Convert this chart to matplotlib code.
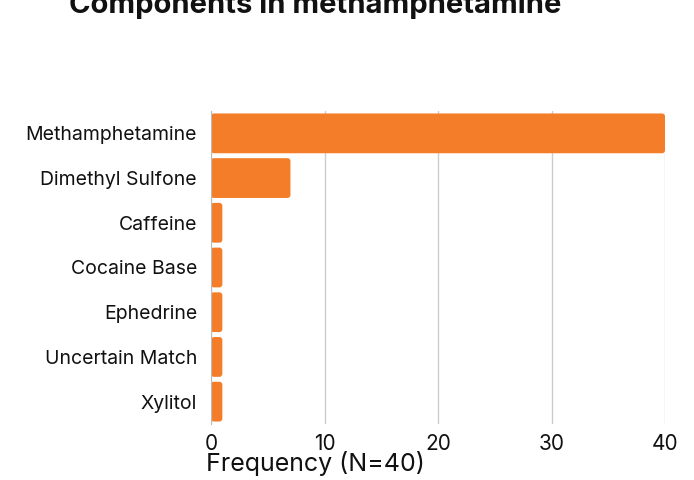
import matplotlib.pyplot as plt
from matplotlib.patches import FancyBboxPatch

# ---- data ----
components = ['Methamphetamine', 'Dimethyl Sulfone', 'Caffeine',
              'Cocaine Base', 'Ephedrine', 'Uncertain Match', 'Xylitol']
frequency = [40, 7, 1, 1, 1, 1, 1]
xticks = [0, 10, 20, 30, 40]

BAR_COLOR = '#F47D2A'
GRID_COLOR = '#CCCCCC'

plt.rcParams['font.family'] = ['Inter', 'DejaVu Sans']

fig = plt.figure(figsize=(6.94, 4.80), dpi=100)
ax_top, ax_bot = 111, 424
ax = fig.add_axes([211 / 694, 1 - ax_bot / 480, 454 / 694, (ax_bot - ax_top) / 480])

ypos = list(range(len(components)))
bars = ax.barh(ypos, frequency, height=0.89, color=BAR_COLOR, zorder=2)

# swap plain rectangles for slightly rounded ones
x_per_px = 40 / 454
y_per_px = 7 / (ax_bot - ax_top)
for b in bars:
    x, y = b.get_x(), b.get_y()
    w, h = b.get_width(), b.get_height()
    b.set_visible(False)
    ax.add_patch(FancyBboxPatch((x, y), w, h,
                                boxstyle=f'round,pad=0,rounding_size={3 * x_per_px:.3f}',
                                mutation_aspect=y_per_px / x_per_px,
                                facecolor=BAR_COLOR, edgecolor='none', zorder=2))

ax.set_xlim(0, 40)
ax.set_ylim(len(components) - 0.5, -0.5)
ax.set_yticks(ypos)
ax.set_yticklabels(components, fontsize=14, color='#111111')
ax.set_xticks(xticks)
ax.set_xticklabels([str(t) for t in xticks], fontsize=15, color='#111111')
ax.tick_params(axis='both', length=0)
ax.tick_params(axis='x', pad=7)
ax.tick_params(axis='y', pad=10)

ax.grid(axis='x', color=GRID_COLOR, linewidth=1, zorder=0)
for s in ['top', 'right', 'bottom']:
    ax.spines[s].set_visible(False)
ax.spines['left'].set_color('#BBBBBB')

fig.text(315 / 694, 1 - 5 / 480, 'Components in methamphetamine',
         ha='center', va='center', fontsize=21, fontweight='bold', color='#111111')
fig.text(315 / 694, 1 - 464 / 480, 'Frequency (N=40)',
         ha='center', va='center', fontsize=18, color='#111111')

fig.savefig('out.png', dpi=100)
